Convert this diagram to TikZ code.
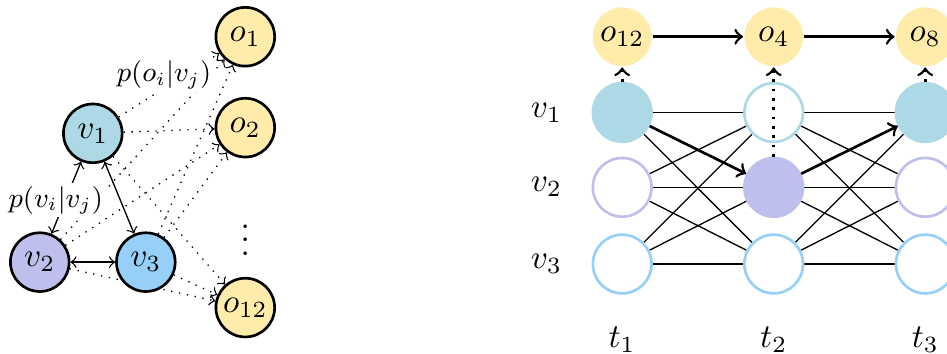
\documentclass[tikz,border=0pt]{standalone}
\usepackage{amsmath,amssymb}
\usepackage{xcolor}
\usepackage{tikz}
\usetikzlibrary{positioning,backgrounds}

\definecolor{vonecol}{RGB}{173,216,230}
\definecolor{vtwocol}{RGB}{191,191,238}
\definecolor{vthreecol}{RGB}{150,208,248}
\definecolor{obscol}{RGB}{255,236,170}

\begin{document}
\begin{tikzpicture}[
  state/.style={circle, thick, minimum size=0.62cm, inner sep=0pt},
  gstate/.style={state, draw=black},
  hstate/.style={state, fill=white},
  emit/.style={->, dotted},
  hemit/.style={->, thick, dotted},
  trans/.style={->, thick},
  plabel/.style={fill=white, font=\small, scale=0.93, inner sep=1pt}
]
  \useasboundingbox (0,0) rectangle (10,3.738);
  % Graph view: hidden states
  \node[gstate, fill=vonecol] (v1) at (0.98,2.33) {$v_1$};
  \node[gstate, fill=vtwocol] (v2) at (0.42,0.97) {$v_2$};
  \node[gstate, fill=vthreecol] (v3) at (1.54,0.97) {$v_3$};
  % Graph view: observations
  \node[gstate, fill=obscol] (o1) at (2.59,3.35) {$o_1$};
  \node[gstate, fill=obscol] (o2) at (2.59,2.39) {$o_2$};
  \node[gstate, fill=obscol] (o12) at (2.59,0.49) {$o_{12}$};
  \node (dots) at (2.59,1.31) {$\vdots$};
  % Transitions between states
  \draw[<->] (v2) -- node[name=pvv, plabel, xshift=-0.12cm, yshift=-0.03cm] {$p(v_i|v_j)$} (v1);
  \draw[<->] (v1) -- (v3);
  \draw[<->] (v2) -- (v3);
  % Emissions
  \begin{scope}[on background layer]
    \draw[emit] (v2) -- (o1);
    \draw[emit] (v3) -- (o1);
    \draw[emit] (v1) -- node[name=pov, plabel, pos=0.45, above, yshift=-0.05cm] {$p(o_i|v_j)$} (o1);
    \draw[emit] (v1) -- (o2);
    \draw[emit] (v1) -- (o12);
    \draw[emit] (v2) -- (o2);
    \draw[emit] (v2) -- (o12);
    \draw[emit] (v3) -- (o2);
    \draw[emit] (v3) -- (o12);
  \end{scope}

  % Trellis view: observations
  \node[state, fill=obscol] (ho1) at (6.57,3.35) {$o_{12}$};
  \node[state, fill=obscol] (ho2) at (8.17,3.35) {$o_4$};
  \node[state, fill=obscol] (ho3) at (9.77,3.35) {$o_8$};
  % Trellis view: states at t1, t2, t3
  \node[state, draw=vonecol, fill=vonecol] (h11) at (6.57,2.55) {};
  \node[hstate, draw=vtwocol] (h21) at (6.57,1.76) {};
  \node[hstate, draw=vthreecol] (h31) at (6.57,0.95) {};
  \node[hstate, draw=vonecol] (h12) at (8.17,2.55) {};
  \node[state, draw=vtwocol, fill=vtwocol] (h22) at (8.17,1.76) {};
  \node[hstate, draw=vthreecol] (h32) at (8.17,0.95) {};
  \node[state, draw=vonecol, fill=vonecol] (h13) at (9.77,2.55) {};
  \node[hstate, draw=vtwocol] (h23) at (9.77,1.76) {};
  \node[hstate, draw=vthreecol] (h33) at (9.77,0.95) {};
  % Row and column labels
  \node (lv1) at (5.77,2.55) {$v_1$};
  \node (lv2) at (5.77,1.76) {$v_2$};
  \node (lv3) at (5.77,0.95) {$v_3$};
  \node (lt1) at (6.57,0.15) {$t_1$};
  \node (lt2) at (8.17,0.15) {$t_2$};
  \node (lt3) at (9.77,0.15) {$t_3$};
  % All possible transitions
  \begin{scope}[on background layer]
    \foreach \a/\b in {1/2,2/3}
      \foreach \i in {1,2,3}
        \foreach \j in {1,2,3}
          \draw (h\i\a) -- (h\j\b);
  \end{scope}
  % Decoded path
  \draw[trans] (h11) -- (h22);
  \draw[trans] (h22) -- (h13);
  \draw[trans] (ho1) -- (ho2);
  \draw[trans] (ho2) -- (ho3);
  \draw[hemit] (h11) -- (ho1);
  \draw[hemit] (h22) -- (ho2);
  \draw[hemit] (h13) -- (ho3);
\end{tikzpicture}
\end{document}
